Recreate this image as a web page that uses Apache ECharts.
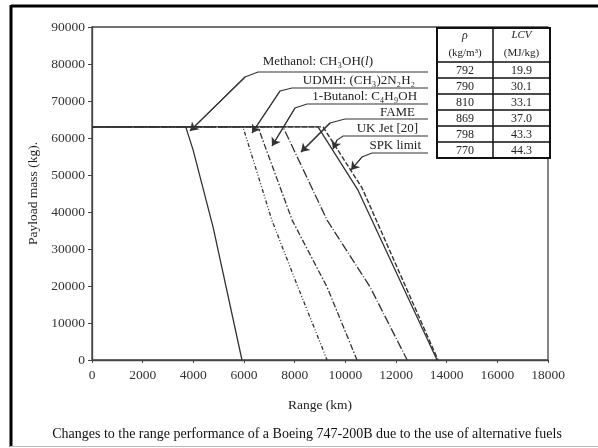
<!DOCTYPE html>
<html><head><meta charset="utf-8">
<script src="https://cdn.jsdelivr.net/npm/echarts@6/dist/echarts.min.js"></script>
<style>html,body{margin:0;padding:0;background:#fff}#c{width:598px;height:448px}</style>
</head><body><div id="c"></div>
<script>
// ---- data (range km, payload kg) ----
const methanol = [[0,63000],[3700,63000],[3990,56800],[4780,35900],[5920,0]];
const udmh     = [[0,63000],[5960,63000],[7100,37800],[8130,19700],[9280,0]];
const butanol  = [[0,63000],[6550,63000],[7900,37800],[9280,19700],[10460,0]];
const fame     = [[0,63000],[7540,63000],[9280,37800],[10980,19700],[12440,0]];
const ukJet    = [[0,63000],[8920,63000],[10500,45900],[13620,0]];
const spk      = [[0,63000],[9120,63000],[10660,46500],[13660,0]];

const fuelLabels = ['Methanol: CH₃OH({i|l})','UDMH: (CH₃)2N₂H₂','1-Butanol: C₄H₉OH','FAME','UK Jet [20]','SPK limit'];
// label anchors (right end of text) in data coords
const labelAnchors = [[11094,80540],[12752,75405],[12831,71081],[12752,66757],[12870,62432],[12989,57838]];
// leader lines in data coords (underline end -> arrow tip)
const leaders = [
  [[13265,77838],[6554,77838],[6041,76486],[3870,61900]],
  [[13265,73513],[7896,73513],[7422,72703],[6317,61351]],
  [[13265,69189],[8488,69189],[8014,68108],[7106,57838]],
  [[13265,65135],[9988,65135],[9396,64054],[8251,56216]],
  [[13265,60540],[9909,60540],[9672,59459],[9514,57027]],
  [[13265,55946],[11054,55946],[10659,54865],[10225,51351]]
];
const densities = ['792','790','810','869','798','770'];
const lcvs = ['19.9','30.1','33.1','37.0','43.3','44.3'];

const FONT = "'Liberation Serif','Times New Roman','DejaVu Serif',serif";
const INK = '#333';

const chart = echarts.init(document.getElementById('c'));
function lineSeries(name, data, type, w) {
  return {name, type:'line', data, showSymbol:false, symbol:'none', silent:true,
    lineStyle:{color:INK, width:w||1.3, type:type}, z:3};
}
chart.setOption({
  animation:false,
  backgroundColor:'#fff',
  grid:{left:92, right:50, top:27, bottom:88, show:true, borderColor:'#444', borderWidth:1.3},
  xAxis:{type:'value', min:0, max:18000, interval:2000,
    name:'Range (km)', nameLocation:'middle', nameGap:38,
    nameTextStyle:{fontFamily:FONT, fontSize:13.5, color:'#222'},
    axisLine:{show:true, lineStyle:{color:'#444', width:1.3}},
    axisTick:{show:true, length:3, lineStyle:{color:'#444'}},
    axisLabel:{fontFamily:FONT, fontSize:13.5, color:'#333', margin:8, formatter: v => String(v)},
    splitLine:{show:false}},
  yAxis:{type:'value', min:0, max:90000, interval:10000,
    name:'Payload mass (kg).', nameLocation:'middle', nameGap:50,
    nameTextStyle:{fontFamily:FONT, fontSize:13.5, color:'#222'},
    axisLine:{show:true, lineStyle:{color:'#444', width:1.3}},
    axisTick:{show:true, length:4, lineStyle:{color:'#444'}},
    axisLabel:{fontFamily:FONT, fontSize:13.5, color:'#333', margin:7, formatter: v => String(v)},
    splitLine:{show:false}},
  series:[
    lineSeries('UDMH', udmh, [4,2,1,2,1,2]),
    lineSeries('1-Butanol', butanol, [6,2,1.5,2]),
    lineSeries('FAME', fame, [9,2,1,2]),
    lineSeries('SPK limit', spk, [5,2], 1.4),
    lineSeries('Methanol', methanol, 'solid'),
    lineSeries('UK Jet', ukJet, 'solid'),
    {type:'lines', coordinateSystem:'cartesian2d', polyline:true, silent:true, z:5,
     lineStyle:{color:INK, width:1.1, opacity:1},
     data: leaders.map(c => ({coords:c}))},
    {type:'lines', coordinateSystem:'cartesian2d', silent:true, z:6,
     lineStyle:{color:INK, width:1.1, opacity:1},
     symbol:['none','arrow'], symbolSize:[1,8],
     data: leaders.map(c => ({coords:[c[c.length-2], c[c.length-1]]}))}
  ]
});

// ---- annotations ----
const g = [];
// figure frame
g.push({type:'line', shape:{x1:11, y1:6, x2:598, y2:6}, style:{stroke:'#000', lineWidth:3}});
g.push({type:'line', shape:{x1:11, y1:5, x2:11, y2:447}, style:{stroke:'#000', lineWidth:3}});
g.push({type:'line', shape:{x1:10, y1:446.5, x2:598, y2:446.5}, style:{stroke:'#bbb', lineWidth:1}});
// fuel labels
fuelLabels.forEach((t,i) => {
  const p = chart.convertToPixel({gridIndex:0}, labelAnchors[i]);
  g.push({type:'text', x:p[0], y:p[1], z:10, style:{text:t, fill:'#222', font:'13px '+FONT,
    align:'right', verticalAlign:'middle', rich:{i:{fontStyle:'italic', fontSize:13, fontFamily:FONT, fill:'#222'}}}});
});
// table
const tL=437, tM=493, tR=550, tT=28, hB=62, rH=16;
g.push({type:'rect', shape:{x:tL, y:tT, width:tR-tL, height:hB+rH*6-tT}, style:{fill:'#fff', stroke:'#111', lineWidth:2}, z:8});
g.push({type:'line', shape:{x1:tM, y1:tT, x2:tM, y2:hB+rH*6}, style:{stroke:'#111', lineWidth:1.5}, z:9});
for (let r=0; r<6; r++) {
  const y = hB + rH*r;
  g.push({type:'line', shape:{x1:tL, y1:y, x2:tR, y2:y}, style:{stroke:'#111', lineWidth:r===0?1.5:1.6}, z:9});
  g.push({type:'text', x:(tL+tM)/2, y:y+rH/2+0.5, z:10, style:{text:densities[r], fill:'#222', font:'12px '+FONT, align:'center', verticalAlign:'middle'}});
  g.push({type:'text', x:(tM+tR)/2, y:y+rH/2+0.5, z:10, style:{text:lcvs[r], fill:'#222', font:'12px '+FONT, align:'center', verticalAlign:'middle'}});
}
g.push({type:'text', x:(tL+tM)/2, y:36, z:10, style:{text:'ρ', fill:'#222', font:'italic 12px '+FONT, align:'center', verticalAlign:'middle'}});
g.push({type:'text', x:(tL+tM)/2, y:53, z:10, style:{text:'(kg/m³)', fill:'#222', font:'11px '+FONT, align:'center', verticalAlign:'middle'}});
g.push({type:'text', x:(tM+tR)/2, y:35, z:10, style:{text:'LCV', fill:'#222', font:'italic 11px '+FONT, align:'center', verticalAlign:'middle'}});
g.push({type:'text', x:(tM+tR)/2, y:53, z:10, style:{text:'(MJ/kg)', fill:'#222', font:'11px '+FONT, align:'center', verticalAlign:'middle'}});
// caption
g.push({type:'text', x:307, y:434, z:10, style:{text:'Changes to the range performance of a Boeing 747-200B due to the use of alternative fuels',
  fill:'#111', font:'14px '+FONT, align:'center', verticalAlign:'middle'}});
chart.setOption({graphic:g});
</script></body></html>
